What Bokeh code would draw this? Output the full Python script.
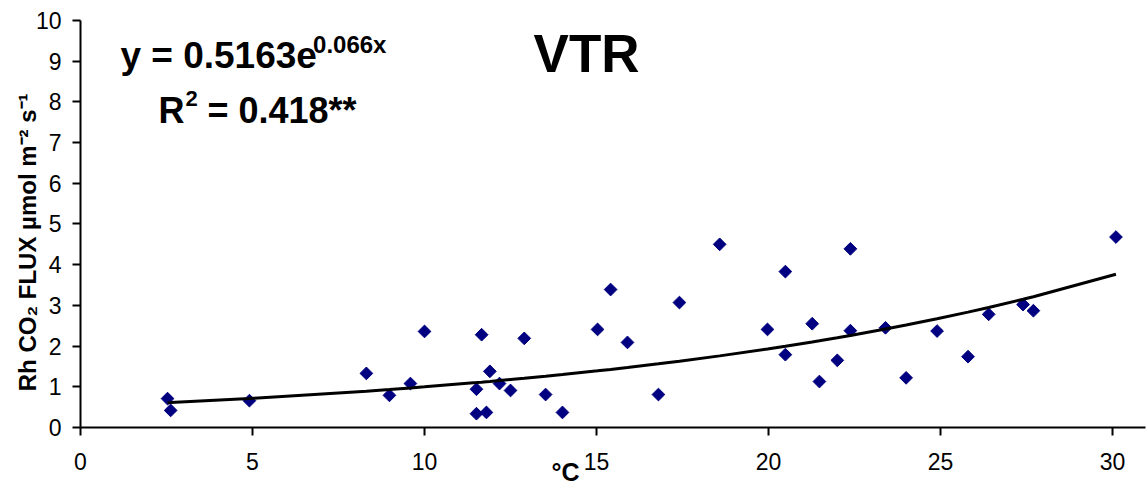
import numpy as np
from bokeh.plotting import figure
from bokeh.models import Label, Range1d, FixedTicker
from bokeh.embed import file_html
from bokeh.resources import INLINE

# --- data ---
temp_c = [2.53, 2.62, 4.91, 8.31, 8.98, 9.59, 10.0, 11.51, 11.51, 11.66, 11.8, 11.9,
          12.18, 12.5, 12.9, 13.52, 14.01, 15.03, 15.41, 15.9, 16.8, 17.41, 18.58,
          19.97, 20.49, 20.49, 21.27, 21.48, 22.0, 22.38, 22.38, 23.4, 24.0, 24.9,
          25.8, 26.4, 27.4, 27.7, 30.1]
rh_flux = [0.71, 0.42, 0.66, 1.33, 0.79, 1.08, 2.36, 0.94, 0.34, 2.28, 0.37, 1.38,
           1.08, 0.91, 2.19, 0.81, 0.37, 2.41, 3.39, 2.09, 0.81, 3.07, 4.50,
           2.41, 1.79, 3.83, 2.55, 1.13, 1.65, 4.39, 2.38, 2.45, 1.22, 2.37,
           1.74, 2.78, 3.02, 2.87, 4.68]
fit_a = 0.5163
fit_b = 0.066
x_ticks = [0, 5, 10, 15, 20, 25, 30]
y_ticks = list(range(0, 11))

FONT = "Liberation Sans"

p = figure(width=1147, height=489, output_backend="svg", toolbar_location=None,
           title=None,
           x_range=Range1d(-2.326, 31.017), y_range=Range1d(-1.523, 10.491),
           min_border=0)
p.outline_line_color = None
p.grid.visible = False
p.background_fill_color = "white"
p.border_fill_color = "white"

for ax in (p.xaxis, p.yaxis):
    ax.axis_line_color = "black"
    ax.axis_line_width = 2
    ax.major_tick_line_color = "black"
    ax.major_tick_line_width = 2
    ax.major_tick_out = 8
    ax.major_tick_in = 0
    ax.minor_tick_line_color = None
    ax.major_label_text_font = FONT
    ax.major_label_text_font_size = "23px"
    ax.major_label_text_color = "black"

p.xaxis.fixed_location = 0
p.yaxis.fixed_location = 0
p.xaxis.bounds = (0, 30.96)
p.yaxis.bounds = (0, 10)
p.xaxis.ticker = FixedTicker(ticks=x_ticks)
p.yaxis.ticker = FixedTicker(ticks=y_ticks)
p.xaxis.major_label_standoff = 17
p.yaxis.major_label_standoff = 11

# scatter
p.scatter(temp_c, rh_flux, marker="square", size=9, angle=np.pi / 4,
          fill_color="#000080", line_color="#000080")

# exponential trend line from the fitted equation
tx = np.array(sorted(temp_c))
ty = fit_a * np.exp(fit_b * tx)
p.line(tx, ty, line_color="black", line_width=3)

def lab(text, x, y, size, align="left", baseline="alphabetic", angle=0.0):
    p.add_layout(Label(x=x, y=y, text=text, text_font=FONT, text_font_style="bold",
                       text_font_size=size, text_color="black", text_align=align,
                       text_baseline=baseline, angle=angle))

lab("y = 0.5163e", 1.16, 9.14, "37px")
lab("0.066x", 6.76, 9.42, "24px")
lab("R", 2.27, 7.79, "36px")
lab("2", 3.05, 8.09, "22px")
lab("= 0.418**", 3.69, 7.79, "36px")
lab("VTR", 13.17, 9.19, "53px")
lab("°C", 14.1, -1.10, "25px", align="center")
lab("Rh CO₂ FLUX µmol m⁻² s⁻¹", -1.54, 4.55, "24px", align="center",
    baseline="middle", angle=np.pi / 2)

open("out.html", "w").write(file_html(p, INLINE))
